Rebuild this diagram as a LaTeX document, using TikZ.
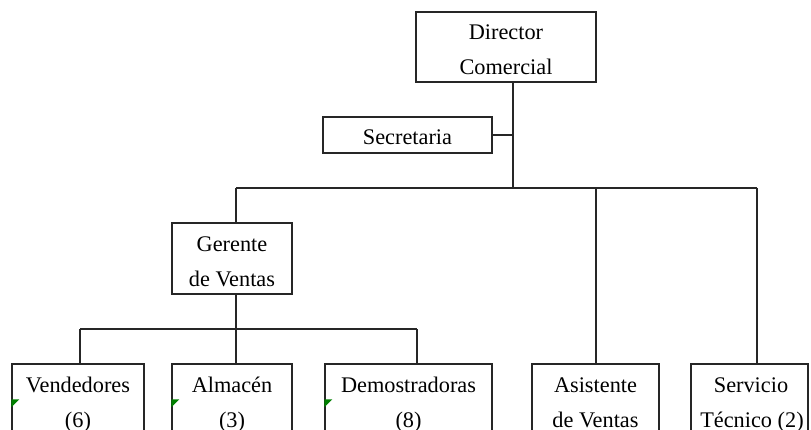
\documentclass[tikz,border=0pt]{standalone}
\usepackage{fontspec}
\setmainfont{Liberation Serif}
\begin{document}
\begin{tikzpicture}[x=1pt,y=-1pt,
  box/.style={draw=black!85, line width=1.3pt, rectangle, inner sep=0pt},
  wire/.style={draw=black!85, line width=1.3pt},
  txt/.style={anchor=base, inner sep=0pt, font=\fontsize{22.3}{27}\selectfont},
  flag/.style={fill=green!50!black, draw=none}]
\useasboundingbox (0,0) rectangle (811,430);
\clip (0,0) rectangle (811,430);
\fill[white] (0,0) rectangle (811,430);

% boxes
\node[box, minimum width=180pt, minimum height=70pt] (dir) at (506,47) {};
\node[box, minimum width=169pt, minimum height=36pt] (sec) at (407.5,135) {};
\node[box, minimum width=120pt, minimum height=71pt] (ger) at (232,258.5) {};
\node[box, minimum width=132pt, minimum height=70pt] (ven) at (78,399) {};
\node[box, minimum width=120pt, minimum height=70pt] (alm) at (232,399) {};
\node[box, minimum width=167pt, minimum height=70pt] (dem) at (408.5,399) {};
\node[box, minimum width=127pt, minimum height=70pt] (asi) at (595.5,399) {};
\node[box, minimum width=117pt, minimum height=70pt] (ser) at (749.5,399) {};

% labels
\node[txt] (dirA) at (506,40) {Director};
\node[txt] (dirB) at (506,75) {Comercial};
\node[txt] (secA) at (407.5,145) {Secretaria};
\node[txt] (gerA) at (232,252) {Gerente};
\node[txt] (gerB) at (232,287) {de Ventas};
\node[txt] (venA) at (78,392) {Vendedores};
\node[txt] (venB) at (78,427) {(6)};
\node[txt] (almA) at (232,392) {Almacén};
\node[txt] (almB) at (232,427) {(3)};
\node[txt] (demA) at (408.5,392) {Demostradoras};
\node[txt] (demB) at (408.5,427) {(8)};
\node[txt] (asiA) at (595.5,392) {Asistente};
\node[txt] (asiB) at (595.5,427) {de Ventas};
\node[txt] (serA) at (751,392) {Servicio};
\node[txt] (serB) at (752,427) {Técnico (2)};

% junction points
\coordinate (trunk) at (513,188);
\coordinate (busL) at (236,188);
\coordinate (busA) at (596,188);
\coordinate (busR) at (757,188);
\coordinate (sub) at (236,329);
\coordinate (subL) at (80,329);
\coordinate (subR) at (417,329);

% connectors
\draw[wire] (dir.south -| trunk) -- (trunk);
\draw[wire] (sec.east) -- (sec.east -| trunk);
\draw[wire] (busL) -- (busR);
\draw[wire] (busL) -- (ger.north -| busL);
\draw[wire] (busA) -- (asi.north -| busA);
\draw[wire] (busR) -- (ser.north -| busR);
\draw[wire] (ger.south -| sub) -- (sub);
\draw[wire] (subL) -- (subR);
\draw[wire] (subL) -- (ven.north -| subL);
\draw[wire] (sub) -- (alm.north -| sub);
\draw[wire] (subR) -- (dem.north -| subR);

% comment markers
\fill[flag] ([yshift=-36pt]ven.north west) -- ++(8,0) -- ++(-8,8) -- cycle;
\fill[flag] ([yshift=-36pt]alm.north west) -- ++(8,0) -- ++(-8,8) -- cycle;
\fill[flag] ([yshift=-36pt]dem.north west) -- ++(8,0) -- ++(-8,8) -- cycle;
\end{tikzpicture}
\end{document}
